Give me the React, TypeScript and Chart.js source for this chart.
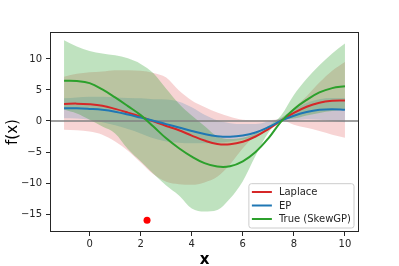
import React, { useEffect, useRef } from "react";
import { Chart, registerables } from "chart.js";

Chart.register(...registerables);

// ---- data ----
const X = [-1, -0.5, 0, 0.5, 1, 1.5, 2, 2.5, 3, 3.5, 4, 4.5, 5, 5.5, 6, 6.5, 7, 7.5, 8, 8.5, 9, 9.5, 10];

const LAPLACE_MEAN = [2.75, 2.8, 2.7, 2.45, 1.95, 1.35, 0.7, -0.05, -0.8, -1.5, -2.35, -3.15, -3.7, -3.75, -3.35, -2.5, -1.3, 0.05, 1.3, 2.3, 2.95, 3.25, 3.3];
const LAPLACE_UPPER = [7.15, 7.6, 7.85, 8.0, 8.2, 8.2, 8.1, 7.75, 7.0, 4.9, 3.3, 2.25, 1.35, 0.7, 0.2, 0.1, 0.15, 0.5, 2.1, 4.0, 6.2, 8.1, 9.5];
const LAPLACE_LOWER = [-1.4, -1.5, -1.7, -2.2, -3.3, -4.8, -6.7, -8.6, -9.8, -10.2, -10.3, -9.9, -9.0, -7.0, -4.4, -2.3, -0.8, 0.1, -0.6, -1.1, -1.6, -2.2, -2.7];

const EP_MEAN = [2.05, 2.05, 1.95, 1.8, 1.5, 1.05, 0.55, 0.05, -0.5, -1.05, -1.6, -2.1, -2.45, -2.55, -2.35, -1.85, -1.0, 0.05, 0.85, 1.45, 1.8, 1.9, 1.8];
const EP_UPPER = [3.66, 3.8, 3.9, 3.9, 3.8, 3.7, 3.65, 3.5, 3.45, 3.1, 2.2, 1.0, 0.1, -0.35, -0.5, -0.5, -0.1, 0.5, 1.8, 2.9, 3.5, 3.7, 3.7];
const EP_LOWER = [0.45, 0.4, 0.2, -0.2, -0.7, -1.3, -2.0, -2.8, -3.3, -3.5, -3.6, -3.6, -3.5, -3.3, -3.0, -2.5, -1.5, -0.1, 0.1, 0.3, 0.2, 0.0, -0.2];

const TRUE_MEAN = [6.5, 6.45, 6.1, 5.1, 3.8, 2.4, 0.95, -0.9, -2.8, -4.4, -5.75, -6.8, -7.35, -7.3, -6.5, -5.0, -2.8, -0.1, 1.9, 3.4, 4.6, 5.3, 5.6];
const TRUE_UPPER = [13.0, 12.0, 11.3, 10.9, 10.6, 10.1, 9.2, 7.7, 5.2, 2.8, 0.9, -0.8, -2.5, -2.9, -2.7, -2.0, -0.8, 0.9, 4.2, 6.8, 9.0, 10.9, 12.5];
const TRUE_LOWER = [1.8, 1.2, 0.2, -0.9, -2.0, -4.5, -6.5, -8.5, -10.4, -12.0, -14.1, -14.6, -14.35, -12.5, -9.7, -5.6, -1.9, 0.1, 0.4, 0.9, 1.3, 1.6, 1.8];

const OBS_X = [2.25];
const OBS_Y = [-16];

const X_TICKS = [0, 2, 4, 6, 8, 10];
const Y_TICKS = [-15, -10, -5, 0, 5, 10];
const X_RANGE = [-1.55, 10.55];
const Y_RANGE = [-17.9, 14.35];

const SERIES_LABELS = ["Laplace", "EP", "True (SkewGP)"];
const X_TITLE = "x";
const Y_TITLE = "f(x)";

// ---- styles ----
const RED = "#d62728";
const BLUE = "#1f77b4";
const GREEN = "#2ca02c";
const FONT = "'DejaVu Sans', sans-serif";
const INK = "#262626";

const pts = (ys: number[]) => X.map((x, i) => ({ x, y: ys[i] }));

export default function App() {
  const ref = useRef<HTMLCanvasElement>(null);

  useEffect(() => {
    if (!ref.current) return;
    const lineDs = (label: string, ys: number[], color: string) => ({
      label,
      data: pts(ys),
      borderColor: color,
      borderWidth: 2,
      pointRadius: 0,
      fill: false,
      tension: 0.4,
    });
    const edgeDs = (ys: number[], fillTarget: number | false, fillColor: string) => ({
      label: "",
      data: pts(ys),
      borderColor: "rgba(0,0,0,0)",
      borderWidth: 0,
      pointRadius: 0,
      backgroundColor: fillColor,
      fill: fillTarget === false ? false : { target: fillTarget },
      cubicInterpolationMode: "monotone" as const,
    });

    const datasets: any[] = [
      {
        label: "obs",
        data: OBS_X.map((x, i) => ({ x, y: OBS_Y[i] })),
        showLine: false,
        pointRadius: 3.5,
        pointBackgroundColor: "#ff0000",
        pointBorderColor: "#ff0000",
        pointBorderWidth: 0,
      },
      lineDs(SERIES_LABELS[2], TRUE_MEAN, GREEN), // 1
      lineDs(SERIES_LABELS[1], EP_MEAN, BLUE), // 2
      lineDs(SERIES_LABELS[0], LAPLACE_MEAN, RED), // 3
      edgeDs(TRUE_UPPER, 5, "rgba(44,160,44,0.3)"), // 4
      edgeDs(TRUE_LOWER, false, "rgba(0,0,0,0)"), // 5
      edgeDs(EP_UPPER, 7, "rgba(31,119,180,0.2)"), // 6
      edgeDs(EP_LOWER, false, "rgba(0,0,0,0)"), // 7
      edgeDs(LAPLACE_UPPER, 9, "rgba(214,39,40,0.2)"), // 8
      edgeDs(LAPLACE_LOWER, false, "rgba(0,0,0,0)"), // 9
    ];

    const legendItems = [
      { label: SERIES_LABELS[0], color: RED },
      { label: SERIES_LABELS[1], color: BLUE },
      { label: SERIES_LABELS[2], color: GREEN },
    ];

    const decor = {
      id: "decor",
      beforeDatasetsDraw(chart: any) {
        const { ctx, chartArea, scales } = chart;
        const y0 = scales.y.getPixelForValue(0);
        ctx.save();
        ctx.strokeStyle = "#808080";
        ctx.lineWidth = 1.5;
        ctx.beginPath();
        ctx.moveTo(chartArea.left, y0);
        ctx.lineTo(chartArea.right, y0);
        ctx.stroke();
        ctx.restore();
      },
      afterDatasetsDraw(chart: any) {
        const { ctx, chartArea } = chart;
        ctx.save();
        ctx.strokeStyle = INK;
        ctx.lineWidth = 1;
        ctx.strokeRect(
          Math.round(chartArea.left) + 0.5,
          Math.round(chartArea.top) + 0.5,
          Math.round(chartArea.right - chartArea.left) - 1,
          Math.round(chartArea.bottom - chartArea.top) - 1
        );
        ctx.restore();
      },
      afterDraw(chart: any) {
        const { ctx, chartArea } = chart;
        ctx.save();
        // axis titles
        ctx.fillStyle = "#000";
        ctx.font = `bold 15px ${FONT}`;
        ctx.textAlign = "center";
        ctx.textBaseline = "alphabetic";
        ctx.fillText(X_TITLE, (chartArea.left + chartArea.right) / 2, 264);
        ctx.translate(17, (chartArea.top + chartArea.bottom) / 2);
        ctx.rotate(-Math.PI / 2);
        ctx.font = `15px ${FONT}`;
        ctx.fillText(Y_TITLE, 0, 0);
        ctx.restore();

        // legend
        ctx.save();
        ctx.font = `10px ${FONT}`;
        const tw = Math.max(...legendItems.map((it) => ctx.measureText(it.label).width));
        const rowH = 13.5;
        const boxW = 3 + 20 + 7 + tw + 3;
        const boxH = 8.3 + rowH * 2 + 9;
        const right = chartArea.right - 5;
        const bottom = chartArea.bottom - 4;
        const left = right - boxW;
        const top = bottom - boxH;
        ctx.beginPath();
        const r = 2.5;
        ctx.moveTo(left + r, top);
        ctx.lineTo(right - r, top);
        ctx.quadraticCurveTo(right, top, right, top + r);
        ctx.lineTo(right, bottom - r);
        ctx.quadraticCurveTo(right, bottom, right - r, bottom);
        ctx.lineTo(left + r, bottom);
        ctx.quadraticCurveTo(left, bottom, left, bottom - r);
        ctx.lineTo(left, top + r);
        ctx.quadraticCurveTo(left, top, left + r, top);
        ctx.closePath();
        ctx.fillStyle = "rgba(255,255,255,0.8)";
        ctx.fill();
        ctx.strokeStyle = "#cccccc";
        ctx.lineWidth = 1;
        ctx.stroke();
        legendItems.forEach((it, i) => {
          const cy = top + 8.3 + i * rowH;
          ctx.strokeStyle = it.color;
          ctx.lineWidth = 2;
          ctx.beginPath();
          ctx.moveTo(left + 3, cy);
          ctx.lineTo(left + 23, cy);
          ctx.stroke();
          ctx.fillStyle = INK;
          ctx.textAlign = "left";
          ctx.textBaseline = "middle";
          ctx.fillText(it.label, left + 30, cy + 0.5);
        });
        ctx.restore();
      },
    };

    const fmt = (v: any) => String(v).replace("-", "\u2212");

    const chart = new Chart(ref.current, {
      type: "line",
      data: { datasets },
      options: {
        animation: false,
        responsive: false,
        maintainAspectRatio: false,
        devicePixelRatio: 1,
        layout: { padding: { top: 32, right: 40, left: 0, bottom: 0 } },
        plugins: {
          legend: { display: false },
          tooltip: { enabled: false },
          filler: { drawTime: "beforeDatasetsDraw", propagate: false },
        } as any,
        scales: {
          x: {
            type: "linear",
            min: X_RANGE[0],
            max: X_RANGE[1],
            afterBuildTicks: (s: any) => {
              s.ticks = X_TICKS.map((v) => ({ value: v }));
            },
            afterFit: (s: any) => {
              s.height = 34;
            },
            grid: { drawOnChartArea: false, drawTicks: true, tickLength: 4, color: INK, lineWidth: 1 },
            border: { display: false },
            ticks: {
              font: { family: FONT, size: 10 },
              color: INK,
              padding: 2,
              maxRotation: 0,
              callback: fmt,
            },
          },
          y: {
            type: "linear",
            min: Y_RANGE[0],
            max: Y_RANGE[1],
            afterBuildTicks: (s: any) => {
              s.ticks = Y_TICKS.map((v) => ({ value: v }));
            },
            afterFit: (s: any) => {
              s.width = 50;
            },
            grid: { drawOnChartArea: false, drawTicks: true, tickLength: 4, color: INK, lineWidth: 1 },
            border: { display: false },
            ticks: {
              font: { family: FONT, size: 10 },
              color: INK,
              padding: 4,
              callback: fmt,
            },
          },
        },
      },
      plugins: [decor],
    } as any);

    return () => chart.destroy();
  }, []);

  return (
    <div style={{ position: "absolute", left: 0, top: 0, width: 399, height: 266, background: "#fff" }}>
      <canvas ref={ref} width={399} height={266} style={{ display: "block", width: 399, height: 266 }} />
    </div>
  );
}
